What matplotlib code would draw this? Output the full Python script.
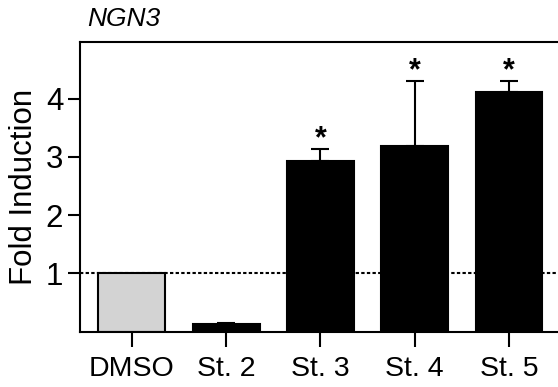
import matplotlib
matplotlib.use("Agg")
import matplotlib.pyplot as plt
import numpy as np

plt.rcParams['font.family'] = ['Liberation Sans', 'DejaVu Sans']

categories = ["DMSO", "St. 2", "St. 3", "St. 4", "St. 5"]
values = [1.0, 0.13, 2.93, 3.18, 4.12]
errors_up = [0.0, 0.02, 0.20, 1.12, 0.18]
significant = [False, False, True, True, True]
bar_colors = ["#d3d3d3", "black", "black", "black", "black"]
yticks = [1, 2, 3, 4]

fig = plt.figure(figsize=(5.58, 3.87), dpi=100)
ax = fig.add_axes([80/558, 1 - 331.5/387, 1 - 80/558, (331.5 - 41.5)/387])

x = np.arange(len(categories))
ax.axhline(1, color='black', lw=1.5, linestyle=(0, (1.6, 1.1)), zorder=1)
ax.bar(x, values, width=0.71, color=bar_colors, edgecolor='black', linewidth=1.5, zorder=2)
errx = [xi for xi, e in zip(x, errors_up) if e > 0]
erry = [v for v, e in zip(values, errors_up) if e > 0]
erre = [e for e in errors_up if e > 0]
ax.errorbar(errx, erry, yerr=[np.zeros(len(erre)), erre], fmt='none', ecolor='black',
            elinewidth=1.5, capsize=6.2, capthick=1.5, zorder=1.5)

for xi, v, e, s in zip(x, values, errors_up, significant):
    if s:
        ax.annotate('*', xy=(xi, v + e), xytext=(0, 7.3), textcoords='offset points',
                    ha='center', va='center', fontsize=22, fontweight='bold')

ax.set_xlim(-0.55, 4.52)
ax.set_ylim(0, 4.98)
ax.set_xticks(x)
ax.set_xticklabels(categories, fontsize=20.5)
ax.set_yticks(yticks)
ax.set_yticklabels([str(t) for t in yticks], fontsize=22.5)
ax.tick_params(axis='y', length=8.6, width=1.5, direction='out', pad=3.5)
ax.tick_params(axis='x', length=11, width=1.5, direction='out', pad=7)
for side in ['left', 'top', 'bottom']:
    ax.spines[side].set_linewidth(1.5)
ax.spines['right'].set_visible(False)

ax.set_ylabel("Fold Induction", fontsize=22.5, labelpad=5)
fig.text(87/558, 1 - 19/387, "NGN3", fontsize=19, style='italic', ha='left', va='center')

fig.savefig("out.png", dpi=100)
